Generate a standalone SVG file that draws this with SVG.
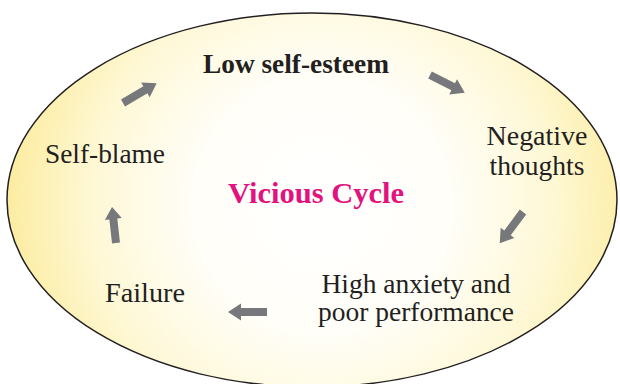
<svg xmlns="http://www.w3.org/2000/svg" xmlns:xlink="http://www.w3.org/1999/xlink" width="620" height="384" viewBox="0 0 620 384">
<style>
.t{font-family:"Times New Roman","Liberation Serif",Tinos,Times,serif;font-size:27px;fill:#231f20;text-anchor:middle}
.b{font-weight:bold}
.arr{fill:#77787b}
</style>
<defs>
<radialGradient id="g" gradientUnits="userSpaceOnUse" cx="322" cy="205" r="318" fx="322" fy="205">
<stop offset="0" stop-color="#ffffff"/>
<stop offset="0.4" stop-color="#fffef8"/>
<stop offset="0.72" stop-color="#fef8d6"/>
<stop offset="1" stop-color="#fcec9f"/>
</radialGradient>
<path id="arr" d="M0,-4 H26 V-8.5 L39,0 L26,8.5 V4 H0 Z"/>
</defs>
<rect width="620" height="384" fill="#ffffff"/>
<g id="cycle">
<ellipse cx="312" cy="200" rx="305" ry="187" fill="url(#g)" stroke="#231f20" stroke-width="1.5"/>
</g>
<g id="low-self-esteem"><text class="t b" x="296" y="73" textLength="186" lengthAdjust="spacingAndGlyphs">Low self-esteem</text></g>
<g id="negative-thoughts"><text class="t" x="537" y="145" textLength="101" lengthAdjust="spacingAndGlyphs">Negative</text><text class="t" x="537" y="175" textLength="95" lengthAdjust="spacingAndGlyphs">thoughts</text></g>
<g id="high-anxiety"><text class="t" x="416" y="293" textLength="189" lengthAdjust="spacingAndGlyphs">High anxiety and</text><text class="t" x="416" y="321" textLength="196" lengthAdjust="spacingAndGlyphs">poor performance</text></g>
<g id="failure"><text class="t" x="145" y="302" textLength="80" lengthAdjust="spacingAndGlyphs">Failure</text></g>
<g id="self-blame"><text class="t" x="105" y="163" textLength="120" lengthAdjust="spacingAndGlyphs">Self-blame</text></g>
<g id="vicious-cycle"><text class="t b" x="316" y="203" style="font-size:29px;fill:#e2137e" textLength="176" lengthAdjust="spacingAndGlyphs">Vicious Cycle</text></g>
<g id="connectors">
<use class="arr" href="#arr" xlink:href="#arr" transform="translate(123,103) rotate(-30.5)"/>
<use class="arr" href="#arr" xlink:href="#arr" transform="translate(430,75) rotate(27)"/>
<use class="arr" href="#arr" xlink:href="#arr" transform="translate(523,212) rotate(126.6)"/>
<use class="arr" href="#arr" xlink:href="#arr" transform="translate(267,312) rotate(180)"/>
<use class="arr" href="#arr" xlink:href="#arr" transform="translate(116,243) rotate(-96.3) scale(0.93,1)"/>
</g>
</svg>
